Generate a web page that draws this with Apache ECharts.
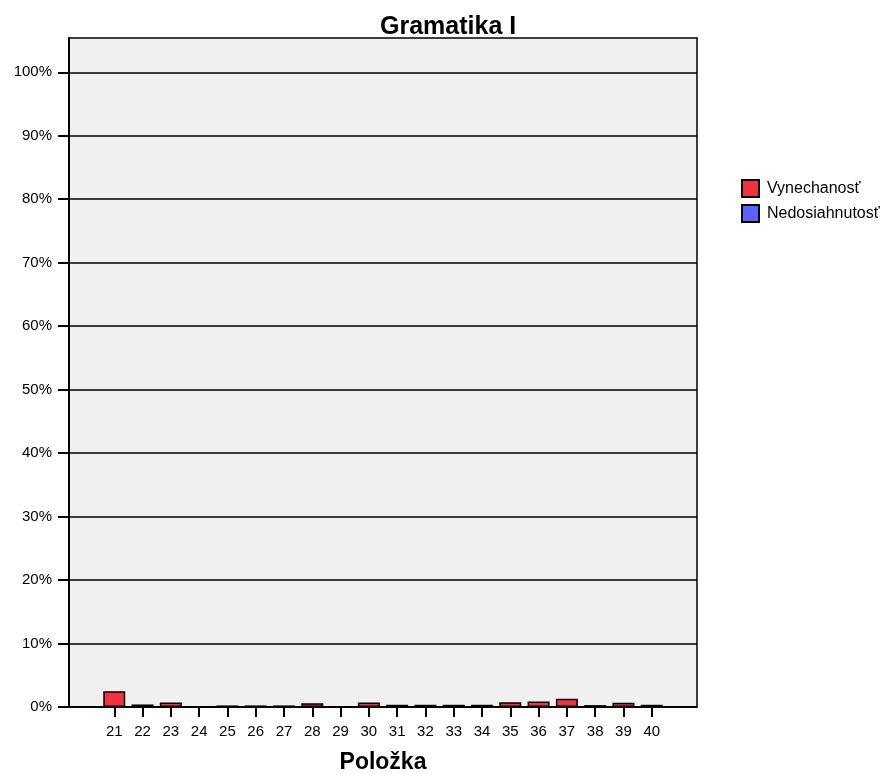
<!DOCTYPE html>
<html>
<head>
<meta charset="utf-8">
<script src="https://cdn.jsdelivr.net/npm/echarts@6/dist/echarts.min.js"></script>
<style>
  html, body { margin: 0; padding: 0; background: #fff; }
  #chart { width: 888px; height: 774px; }
</style>
</head>
<body>
<div id="chart"></div>
<script>
// položky 21..40
const items = [21, 22, 23, 24, 25, 26, 27, 28, 29, 30, 31, 32, 33, 34, 35, 36, 37, 38, 39, 40]
// percent values
const vynechanost = [2.5, 0.4, 0.7, 0.1, 0.25, 0.25, 0.25, 0.6, 0.1, 0.7, 0.35, 0.35, 0.35, 0.35, 0.75, 0.85, 1.3, 0.3, 0.65, 0.35]
const nedosiahnutost = [0, 0, 0, 0, 0, 0, 0, 0, 0, 0, 0, 0, 0, 0, 0, 0, 0, 0, 0, 0]
const yTicks = [0, 10, 20, 30, 40, 50, 60, 70, 80, 90, 100]

const font = 'Liberation Sans, Arial, sans-serif'
const chart = echarts.init(document.getElementById('chart'))

const option = {
  animation: false,
  title: {
    text: 'Gramatika I',
    left: 380,
    top: 15,
    padding: 0,
    textStyle: { fontFamily: font, fontSize: 25, fontWeight: 'bold', color: '#000' }
  },
  legend: {
    orient: 'vertical',
    left: 741,
    top: 179,
    padding: 0,
    itemWidth: 17,
    itemHeight: 17,
    itemGap: 6,
    icon: 'rect',
    textStyle: { fontFamily: font, fontSize: 16, color: '#000', padding: [0, 0, 0, 3] },
    data: ['Vynechanosť', 'Nedosiahnutosť']
  },
  grid: {
    left: 69,
    top: 38,
    right: 191,
    bottom: 67,
    outerBoundsMode: 'none',
    show: true,
    backgroundColor: '#f0f0f0',
    borderColor: '#000',
    borderWidth: 1.5
  },
  xAxis: {
    type: 'value',
    min: 19.4,
    max: 41.6,
    name: 'Položka',
    nameLocation: 'middle',
    nameGap: 44,
    nameTextStyle: { fontFamily: font, fontSize: 23, fontWeight: 'bold', color: '#000' },
    axisLine: { show: true, lineStyle: { color: '#000', width: 1.5 } },
    axisTick: { show: true, length: 10, customValues: items, lineStyle: { color: '#000', width: 2 } },
    axisLabel: {
      customValues: items,
      margin: 17,
      fontFamily: font,
      fontSize: 15,
      color: '#000'
    },
    splitLine: { show: false }
  },
  yAxis: {
    type: 'value',
    min: 0,
    max: 105.4,
    axisLine: { show: true, lineStyle: { color: '#000', width: 2 } },
    axisTick: { show: true, length: 11, customValues: yTicks, lineStyle: { color: '#000', width: 2 } },
    axisLabel: {
      customValues: yTicks,
      margin: 17,
      fontFamily: font,
      fontSize: 15,
      color: '#000',
      formatter: '{value}%'
    },
    splitLine: { show: true, lineStyle: { color: '#000', width: 1.5 } }
  },
  series: [
    {
      name: 'Vynechanosť',
      type: 'bar',
      stack: 'a',
      barWidth: 22,
      data: items.map((x, i) => [x, vynechanost[i]]),
      itemStyle: { color: '#f2333f', borderColor: '#000', borderWidth: 1.5 }
    },
    {
      name: 'Nedosiahnutosť',
      type: 'bar',
      stack: 'a',
      barWidth: 22,
      data: items.map((x, i) => [x, nedosiahnutost[i]]),
      itemStyle: { color: '#5a62fa', borderColor: '#000', borderWidth: 1.5 }
    }
  ]
}

chart.setOption(option)
</script>
</body>
</html>
